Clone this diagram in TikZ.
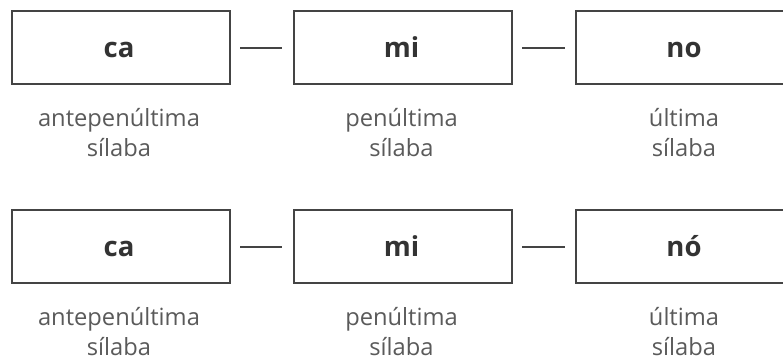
\documentclass[tikz,border=0pt]{standalone}
\usepackage{fontspec}
\setmainfont{Open Sans}
\definecolor{boxline}{HTML}{444444}
\definecolor{boxtext}{HTML}{333333}
\definecolor{labeltext}{HTML}{5A5A5A}
\tikzset{
  syl/.style={draw=boxline, line width=2pt, minimum width=218pt, minimum height=73pt, inner sep=0pt, anchor=north west},
  syltext/.style={anchor=base, inner sep=0pt, text=boxtext, font=\fontsize{27.5}{27.5}\selectfont\bfseries},
  lab/.style={anchor=base, inner sep=0pt, text=labeltext, align=center, font=\fontsize{23.7}{30}\selectfont},
  link/.style={draw=boxline, line width=2pt}
}
\begin{document}
\begin{tikzpicture}[x=1pt,y=-1pt]
\useasboundingbox (0,0) rectangle (783,360);
\clip (0,0) rectangle (783,360);
\foreach \r/\dy/\last in {a/0/no, b/199/nó}{
  \node[syl] (\r1) at (11,10+\dy) {};
  \node[syl] (\r2) at (293,10+\dy) {};
  \node[syl] (\r3) at (575,10+\dy) {};
  \node[syltext] (\r t1) at (119,57+\dy) {ca};
  \node[syltext] (\r t2) at (401.5,57+\dy) {mi};
  \node[syltext] (\r t3) at (684,57+\dy) {\last};
  \coordinate (\r c1a) at ([xshift=9pt]\r1.east);
  \coordinate (\r c1b) at ([xshift=-11pt]\r2.west);
  \coordinate (\r c2a) at ([xshift=9pt]\r2.east);
  \coordinate (\r c2b) at ([xshift=-10pt]\r3.west);
  \draw[link] (\r c1a) -- (\r c1b);
  \draw[link] (\r c2a) -- (\r c2b);
  \node[lab] (\r l1) at (119,156+\dy) {antepenúltima\\sílaba};
  \node[lab] (\r l2) at (401.5,156+\dy) {penúltima\\sílaba};
  \node[lab] (\r l3) at (684,156+\dy) {última\\sílaba};
}
\end{tikzpicture}
\end{document}
